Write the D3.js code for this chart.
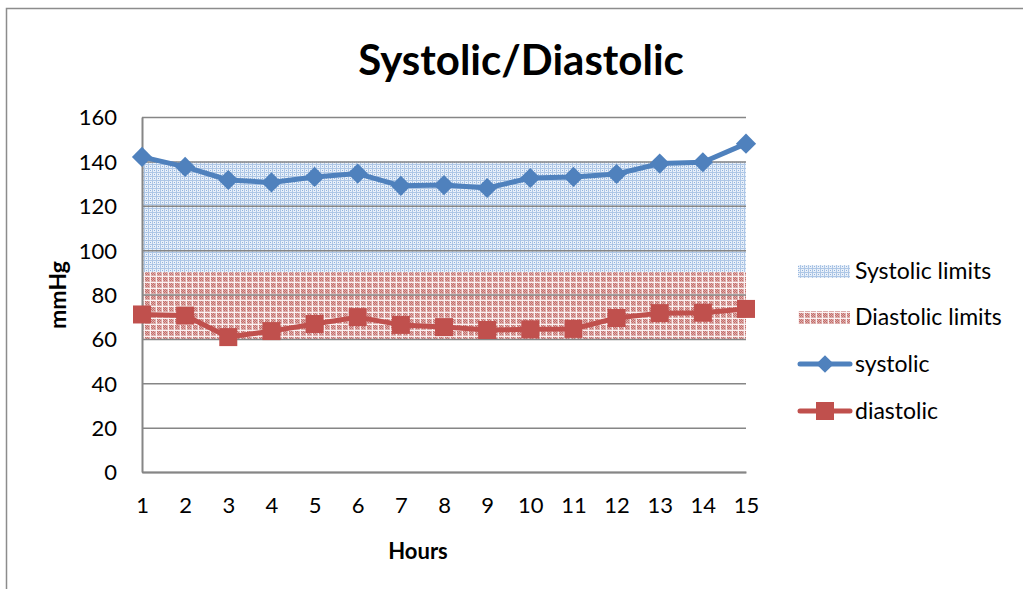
<!DOCTYPE html>
<html>
<head>
<meta charset="utf-8">
<script src="https://cdn.jsdelivr.net/npm/d3@7"></script>
<style>
  html, body { margin: 0; padding: 0; background: #fff; }
  svg { display: block; }
  text { font-family: Lato, "Open Sans", sans-serif; fill: #000; }
</style>
</head>
<body>
<svg id="chart" width="1023" height="589"></svg>
<script>
// Hourly blood pressure readings (mmHg)
const hours = [1, 2, 3, 4, 5, 6, 7, 8, 9, 10, 11, 12, 13, 14, 15];
const systolic = [142, 137.5, 131.6, 130.5, 133, 134.5, 129, 129.3, 128, 132.5, 133, 134.3, 139, 139.6, 148];
const diastolic = [71, 70.5, 60.8, 63.5, 66.7, 69.8, 66.3, 65.3, 64, 64.3, 64.5, 69.4, 71.6, 71.8, 73.5];

// Reference ranges drawn as shaded bands [low, high]
const systolicLimits = [90, 140];
const diastolicLimits = [60, 90];

const yTicks = [0, 20, 40, 60, 80, 100, 120, 140, 160];

const svg = d3.select("#chart");
const FONT = "Lato, 'Open Sans', sans-serif";

// Chart frame
svg.append("rect")
  .attr("x", 6.5).attr("y", 8.5)
  .attr("width", 1040).attr("height", 600)
  .attr("fill", "none").attr("stroke", "#8c8c8c").attr("stroke-width", 1.5);

// Fill patterns for the limit bands
const defs = svg.append("defs");
const pBlue = defs.append("pattern")
  .attr("id", "pat-sys").attr("patternUnits", "userSpaceOnUse")
  .attr("width", 4).attr("height", 4);
pBlue.append("rect").attr("width", 4).attr("height", 4).attr("fill", "#e9f0f9");
pBlue.append("rect").attr("width", 4).attr("height", 1).attr("fill", "#aec7e6");
pBlue.append("rect").attr("width", 1).attr("height", 4).attr("fill", "#aec7e6");
pBlue.append("rect").attr("x", 2).attr("y", 2).attr("width", 1).attr("height", 1).attr("fill", "#8fb2de");

const pRed = defs.append("pattern")
  .attr("id", "pat-dia").attr("patternUnits", "userSpaceOnUse")
  .attr("width", 6).attr("height", 6);
pRed.append("rect").attr("width", 6).attr("height", 6).attr("fill", "#dcaeac");
[[1,1],[3,1],[2,2],[4,2],[1,3],[3,3],[2,4],[4,4]].forEach(([x, y]) =>
  pRed.append("rect").attr("x", x).attr("y", y).attr("width", 1).attr("height", 1).attr("fill", "#c56d6a"));
pRed.append("rect").attr("y", 0).attr("width", 6).attr("height", 1).attr("fill", "#fbf1f1");
pRed.append("rect").attr("x", 0).attr("width", 1).attr("height", 6).attr("fill", "#fbf1f1");

// Scales
const x = d3.scaleLinear().domain([1, 15]).range([142, 746]);
const y = d3.scaleLinear().domain([0, 160]).range([472, 117]);

// Limit bands
const band = lim => d3.area()
  .x(d => x(d))
  .y0(() => y(lim[0]))
  .y1(() => y(lim[1]));

svg.append("path").attr("d", band(systolicLimits)(hours)).attr("fill", "url(#pat-sys)");
svg.append("path").attr("d", band(diastolicLimits)(hours)).attr("fill", "url(#pat-dia)");

// Horizontal gridlines
svg.append("g")
  .attr("transform", `translate(${x(1)},0)`)
  .call(d3.axisLeft(y).tickValues(yTicks).tickSize(-(x(15) - x(1))).tickFormat(""))
  .call(g => g.select(".domain").remove())
  .call(g => g.selectAll("line").attr("stroke", "#868686").attr("stroke-width", 1.5));

// Y axis labels and line
const yAxis = svg.append("g")
  .attr("transform", `translate(${x(1)},0)`)
  .call(d3.axisLeft(y).tickValues(yTicks).tickSize(0).tickPadding(25));
yAxis.select(".domain").attr("stroke", "#868686").attr("stroke-width", 2);
yAxis.selectAll("text")
  .style("font-family", FONT)
  .style("font-size", "22px").attr("fill", "#000").attr("dy", "0.36em");

// X axis
const xAxis = svg.append("g")
  .attr("transform", `translate(0,${y(0)})`)
  .call(d3.axisBottom(x).tickValues(hours).tickFormat(d3.format("d")).tickSize(0).tickPadding(25));
xAxis.select(".domain").attr("stroke", "#868686").attr("stroke-width", 2);
xAxis.selectAll("text")
  .style("font-family", FONT)
  .style("font-size", "22px").attr("fill", "#000");

// Series lines and markers
const line = d3.line().x((d, i) => x(hours[i])).y(d => y(d));
const blue = "#4f81bd", red = "#c0504d";

svg.append("path").attr("d", line(systolic))
  .attr("fill", "none").attr("stroke", blue).attr("stroke-width", 5).attr("stroke-linejoin", "round");
svg.append("path").attr("d", line(diastolic))
  .attr("fill", "none").attr("stroke", red).attr("stroke-width", 5).attr("stroke-linejoin", "round");

const diamond = d3.symbol().type(d3.symbolDiamond2).size(260);
svg.append("g").selectAll("path").data(systolic).join("path")
  .attr("d", diamond)
  .attr("transform", (d, i) => `translate(${x(hours[i])},${y(d)})`)
  .attr("fill", blue);

svg.append("g").selectAll("rect").data(diastolic).join("rect")
  .attr("x", (d, i) => x(hours[i]) - 9).attr("y", d => y(d) - 9)
  .attr("width", 18).attr("height", 18)
  .attr("fill", red);

// Titles
svg.append("text")
  .attr("x", 521).attr("y", 75).attr("text-anchor", "middle")
  .style("font-family", FONT)
  .style("font-size", "42px").style("font-weight", "bold")
  .text("Systolic/Diastolic");

svg.append("text")
  .attr("x", 418).attr("y", 559).attr("text-anchor", "middle")
  .style("font-family", FONT)
  .style("font-size", "22px").style("font-weight", "bold")
  .text("Hours");

svg.append("text")
  .attr("transform", "translate(66,295) rotate(-90)")
  .attr("text-anchor", "middle")
  .style("font-family", FONT)
  .style("font-size", "23px").style("font-weight", "bold")
  .text("mmHg");

// Legend
const legend = svg.append("g");
const legendItems = [
  { label: "Systolic limits", type: "band", fill: "url(#pat-sys)", cy: 271 },
  { label: "Diastolic limits", type: "band", fill: "url(#pat-dia)", cy: 317 },
  { label: "systolic", type: "line", color: blue, marker: "diamond", cy: 364 },
  { label: "diastolic", type: "line", color: red, marker: "square", cy: 411 }
];
legendItems.forEach(it => {
  if (it.type === "band") {
    legend.append("rect").attr("x", 798).attr("y", it.cy - 6).attr("width", 52).attr("height", 13).attr("fill", it.fill);
  } else {
    legend.append("line").attr("x1", 800).attr("x2", 850).attr("y1", it.cy).attr("y2", it.cy)
      .attr("stroke", it.color).attr("stroke-width", 5).attr("stroke-linecap", "round");
    if (it.marker === "diamond") {
      legend.append("path").attr("d", d3.symbol().type(d3.symbolDiamond2).size(200)())
        .attr("transform", `translate(825,${it.cy})`).attr("fill", it.color);
    } else {
      legend.append("rect").attr("x", 816).attr("y", it.cy - 9).attr("width", 18).attr("height", 18).attr("fill", it.color);
    }
  }
  legend.append("text").attr("x", 855).attr("y", it.cy).attr("dy", "0.36em")
    .style("font-family", FONT)
    .style("font-size", "23px").text(it.label);
});
</script>
</body>
</html>
